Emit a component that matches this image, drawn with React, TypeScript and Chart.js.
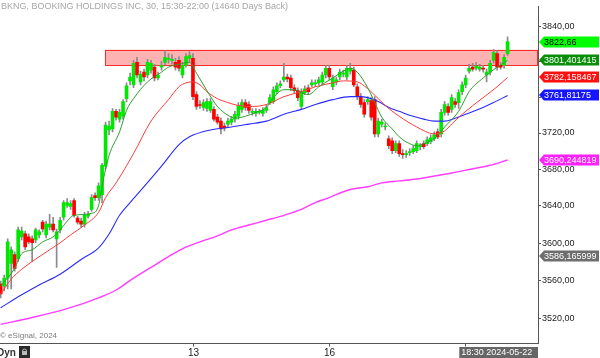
import React, { useEffect, useRef } from "react";
import { Chart, registerables } from "chart.js";
Chart.register(...registerables);

const TITLE = "BKNG, BOOKING HOLDINGS INC, 30, 15:30-22:00 (14640 Days Back)";
const COPYRIGHT = "\u00A9 eSignal, 2024";
const CURSOR_DATE = "18:30 2024-05-22";

// 30-min candles, index 0..145
const opens = [
  3556.3, 3554.2, 3562.6, 3578.2, 3587.6, 3583.4, 3606.7, 3609.8, 3606.7, 3604.5,
  3603.5, 3608.8, 3622.5, 3608.8, 3617.2, 3620.4, 3604.5, 3614.1, 3627.8, 3640.5,
  3639.5, 3645.9, 3626.8, 3623.6, 3620.4, 3628.9, 3636.3, 3651.3, 3649.1, 3652.3,
  3683.4, 3723.4, 3724.5, 3744.1, 3735.4, 3738.6, 3758.3, 3778.2, 3773.8, 3799.2,
  3777.1, 3788.1, 3784.8, 3790.3, 3793.7, 3781.5, 3793.7, 3799.2, 3802.5, 3801.4,
  3799.2, 3801.4, 3784.8, 3795.9, 3803.6, 3803.6, 3762.8, 3751.7, 3748.4, 3747.3,
  3745.2, 3746.3, 3737.6, 3733.2, 3727.8, 3729.9, 3732.1, 3735.4, 3738.6, 3746.3,
  3753.9, 3751.7, 3743.0, 3741.9, 3743.0, 3741.9, 3745.2, 3753.9, 3755.0, 3766.1,
  3772.7, 3779.3, 3782.6, 3781.5, 3770.5, 3767.2, 3749.5, 3765.0, 3770.5, 3773.8,
  3774.9, 3776.0, 3777.1, 3784.8, 3792.5, 3771.6, 3777.1, 3782.6, 3785.9, 3782.6,
  3789.2, 3790.3, 3771.6, 3760.5, 3753.9, 3755.0, 3756.1, 3757.2, 3719.1, 3729.9,
  3726.7, 3713.6, 3711.4, 3700.6, 3708.2, 3697.3, 3696.2, 3698.4, 3699.5, 3700.6,
  3704.9, 3708.2, 3708.2, 3710.3, 3713.6, 3721.2, 3719.1, 3743.0, 3749.5, 3746.3,
  3755.0, 3753.9, 3766.1, 3773.8, 3789.2, 3793.7, 3792.5, 3791.4, 3792.5, 3784.8,
  3788.1, 3801.4, 3809.1, 3795.9, 3795.9, 3809.1,
];
const highs = [
  3559.5, 3565.7, 3604.5, 3596.0, 3590.7, 3617.2, 3617.2, 3613.0, 3609.8, 3607.7,
  3616.2, 3614.1, 3624.6, 3623.6, 3631.0, 3627.8, 3615.1, 3627.8, 3645.9, 3648.0,
  3645.9, 3648.0, 3628.9, 3626.8, 3633.1, 3634.2, 3652.3, 3654.4, 3665.1, 3686.6,
  3732.1, 3733.2, 3747.3, 3746.3, 3746.3, 3757.2, 3776.0, 3787.0, 3801.4, 3804.7,
  3789.2, 3791.4, 3802.5, 3801.4, 3797.0, 3788.1, 3800.3, 3812.5, 3809.1, 3808.0,
  3803.6, 3805.8, 3799.2, 3809.1, 3811.4, 3809.1, 3766.1, 3756.1, 3757.2, 3758.3,
  3758.3, 3749.5, 3740.8, 3736.5, 3731.0, 3736.5, 3738.6, 3744.1, 3753.9, 3757.2,
  3757.2, 3755.0, 3747.3, 3747.3, 3746.3, 3748.4, 3751.7, 3762.8, 3771.6, 3776.0,
  3778.2, 3798.1, 3785.9, 3784.8, 3773.8, 3770.5, 3769.4, 3772.7, 3773.8, 3779.3,
  3779.3, 3782.6, 3788.1, 3795.9, 3795.9, 3784.8, 3782.6, 3791.4, 3790.3, 3795.9,
  3798.1, 3793.7, 3774.9, 3763.9, 3757.2, 3760.5, 3759.4, 3760.5, 3736.5, 3735.4,
  3731.0, 3716.9, 3714.7, 3711.4, 3711.4, 3701.6, 3700.6, 3702.7, 3706.0, 3711.4,
  3708.2, 3711.4, 3715.8, 3718.0, 3721.2, 3724.5, 3746.3, 3755.0, 3752.8, 3762.8,
  3758.3, 3768.3, 3777.1, 3784.8, 3797.0, 3798.1, 3799.2, 3797.0, 3795.9, 3791.4,
  3801.4, 3813.6, 3812.5, 3799.2, 3808.0, 3828.2,
];
const lows = [
  3541.7, 3549.0, 3551.1, 3551.1, 3569.9, 3580.3, 3603.5, 3592.8, 3599.2, 3580.3,
  3600.3, 3605.6, 3612.0, 3605.6, 3614.1, 3612.0, 3574.0, 3610.9, 3624.6, 3638.4,
  3636.3, 3627.8, 3620.4, 3617.2, 3617.2, 3626.8, 3634.2, 3645.9, 3645.9, 3643.7,
  3680.2, 3718.0, 3721.2, 3734.3, 3732.1, 3735.4, 3755.0, 3773.8, 3770.5, 3781.5,
  3773.8, 3778.2, 3781.5, 3787.0, 3778.2, 3779.3, 3790.3, 3795.9, 3798.1, 3797.0,
  3790.3, 3789.2, 3781.5, 3793.7, 3800.3, 3757.2, 3746.3, 3747.3, 3745.2, 3744.1,
  3743.0, 3733.2, 3729.9, 3719.1, 3722.3, 3726.7, 3728.9, 3732.1, 3735.4, 3743.0,
  3745.2, 3741.9, 3739.7, 3738.6, 3740.8, 3738.6, 3743.0, 3751.7, 3752.8, 3763.9,
  3770.5, 3777.1, 3777.1, 3767.2, 3763.9, 3756.1, 3747.3, 3762.8, 3762.8, 3771.6,
  3771.6, 3773.8, 3773.8, 3781.5, 3779.3, 3768.3, 3773.8, 3779.3, 3782.6, 3779.3,
  3785.9, 3771.6, 3757.2, 3748.4, 3737.6, 3751.7, 3734.3, 3715.8, 3715.8, 3726.7,
  3723.4, 3702.7, 3697.3, 3698.4, 3694.1, 3691.9, 3693.0, 3695.2, 3697.3, 3698.4,
  3701.6, 3702.7, 3706.0, 3708.2, 3711.4, 3713.6, 3715.8, 3739.7, 3739.7, 3743.0,
  3748.4, 3747.3, 3762.8, 3770.5, 3787.0, 3789.2, 3790.3, 3789.2, 3788.1, 3777.1,
  3784.8, 3798.1, 3790.3, 3791.4, 3792.5, 3806.9,
];
const closes = [
  3545.9, 3562.6, 3601.3, 3592.8, 3573.0, 3614.1, 3613.0, 3596.0, 3601.3, 3600.3,
  3614.1, 3612.0, 3615.1, 3620.4, 3620.4, 3614.1, 3612.0, 3624.6, 3643.7, 3643.7,
  3642.6, 3629.9, 3622.5, 3620.4, 3629.9, 3631.0, 3649.1, 3649.1, 3661.9, 3684.4,
  3728.9, 3727.8, 3744.1, 3737.6, 3743.0, 3755.0, 3772.7, 3782.6, 3798.1, 3784.8,
  3785.9, 3782.6, 3799.2, 3798.1, 3781.5, 3784.8, 3795.9, 3804.7, 3803.6, 3802.5,
  3793.7, 3792.5, 3795.9, 3805.8, 3806.9, 3760.5, 3749.5, 3750.6, 3753.9, 3755.0,
  3755.0, 3735.4, 3732.1, 3724.5, 3725.6, 3733.2, 3735.4, 3740.8, 3750.6, 3753.9,
  3748.4, 3745.2, 3744.1, 3744.1, 3744.1, 3745.2, 3748.4, 3759.4, 3768.3, 3772.7,
  3774.9, 3782.6, 3780.4, 3770.5, 3767.2, 3759.4, 3766.1, 3769.4, 3766.1, 3776.0,
  3776.0, 3779.3, 3784.8, 3792.5, 3782.6, 3781.5, 3779.3, 3788.1, 3787.0, 3792.5,
  3792.5, 3773.8, 3760.5, 3751.7, 3740.8, 3757.2, 3737.6, 3719.1, 3733.2, 3732.1,
  3727.8, 3706.0, 3700.6, 3708.2, 3697.3, 3696.2, 3697.3, 3699.5, 3702.7, 3708.2,
  3705.4, 3704.9, 3712.5, 3714.7, 3718.0, 3715.8, 3743.0, 3751.7, 3743.0, 3759.4,
  3751.7, 3765.0, 3773.8, 3781.5, 3792.5, 3791.4, 3794.8, 3793.7, 3791.4, 3788.1,
  3798.1, 3810.3, 3793.7, 3793.7, 3804.7, 3822.66,
];

// Moving averages: [bar index, value]
const maGreen: [number, number][] = [
  [0, 3554.2], [4, 3573.0], [6, 3588.6], [9, 3592.8], [12, 3601.3], [15, 3606.7],
  [17, 3614.1], [19, 3623.6], [21, 3629.9], [26, 3632.0], [28, 3640.5], [29, 3661.9],
  [31, 3695.2], [34, 3721.2], [36, 3745.2], [38, 3758.3], [42, 3777.1], [46, 3788.1],
  [48, 3793.7], [51, 3797.0], [54, 3799.2], [56, 3787.0], [59, 3767.2], [62, 3749.5],
  [65, 3739.7], [67, 3736.5], [70, 3738.6], [73, 3743.0], [76, 3748.4], [78, 3759.4],
  [81, 3768.3], [84, 3768.3], [86, 3765.0], [88, 3762.8], [91, 3771.6], [95, 3781.5],
  [98, 3789.2], [100, 3792.5], [102, 3788.1], [105, 3770.5], [107, 3753.9], [109, 3737.6],
  [112, 3724.5], [114, 3715.8], [117, 3708.2], [119, 3706.0], [121, 3708.2], [124, 3713.6],
  [127, 3726.7], [131, 3744.1], [134, 3766.1], [138, 3781.5], [142, 3793.7], [145, 3801.401415],
];
const maRed: [number, number][] = [
  [0, 3545.9], [3, 3561.5], [6, 3572.0], [9, 3580.3], [14, 3592.8], [17, 3600.3],
  [20, 3608.8], [24, 3619.4], [28, 3633.1], [30, 3649.1], [33, 3665.1], [38, 3697.3],
  [43, 3733.2], [48, 3757.2], [51, 3771.6], [53, 3776.0], [55, 3777.1], [57, 3773.8],
  [59, 3766.1], [62, 3758.3], [65, 3753.9], [68, 3750.6], [72, 3749.5], [76, 3751.7],
  [81, 3760.5], [86, 3766.1], [90, 3771.6], [95, 3776.0], [98, 3778.2], [102, 3777.1],
  [105, 3769.4], [108, 3758.3], [111, 3747.3], [114, 3738.6], [119, 3726.7], [124, 3719.1],
  [127, 3722.3], [129, 3729.9], [132, 3740.8], [138, 3759.4], [142, 3771.6], [145, 3782.158467],
];
const maBlue: [number, number][] = [
  [0, 3531.3], [6, 3544.9], [11, 3555.3], [17, 3566.7], [23, 3582.4], [28, 3594.9],
  [31, 3609.8], [34, 3629.9], [37, 3643.7], [40, 3656.6], [46, 3683.4], [51, 3707.1],
  [54, 3715.8], [60, 3723.4], [66, 3726.7], [71, 3729.9], [76, 3733.2], [81, 3740.8],
  [86, 3746.3], [90, 3751.7], [95, 3757.2], [100, 3760.5], [103, 3760.5], [106, 3758.3],
  [108, 3755.0], [111, 3748.4], [114, 3744.1], [118, 3738.6], [121, 3735.4], [124, 3733.2],
  [127, 3733.2], [130, 3736.5], [133, 3740.8], [138, 3748.4], [141, 3753.9], [145, 3761.81175],
];
const maMagenta: [number, number][] = [
  [0, 3513.8], [9, 3521.0], [19, 3530.3], [28, 3541.7], [33, 3550.0], [38, 3562.6],
  [43, 3574.0], [48, 3585.5], [52, 3593.9], [57, 3601.3], [62, 3607.7], [66, 3614.1],
  [71, 3619.4], [76, 3624.6], [81, 3629.9], [86, 3636.3], [90, 3643.7], [94, 3649.1],
  [98, 3655.5], [101, 3658.7], [105, 3660.9], [109, 3665.1], [114, 3667.3], [119, 3669.4],
  [124, 3672.6], [129, 3675.9], [133, 3679.1], [140, 3684.4], [145, 3690.244819],
];

// Resistance zone
const zoneLow = 3796.0;
const zoneHigh = 3813.5;
const zoneStartIndex = 29.8;

// Axis
const yMin = 3494.4;
const yMax = 3863;
const yTicks = [3520, 3560, 3600, 3640, 3680, 3720, 3760, 3800, 3840];
const xMin = -0.2;
const xMax = 153.7;
const xTickPositions = [54.9, 93.9, 132.9];
const xTickLabels = ["13", "16", ""];

// Price tags on the right axis
const tagValues = [3822.66, 3801.401415, 3782.158467, 3761.81175, 3690.244819, 3586.165999];
const tagTexts = ["3822,66", "3801,401415", "3782,158467", "3761,81175", "3690,244819", "3586,165999"];
const tagBg = ["#00ff00", "#0b8f0b", "#ff1010", "#1515ff", "#ff20ff", "#6e6e6e"];
const tagFg = ["#000000", "#ffffff", "#ffffff", "#ffffff", "#ffffff", "#ffffff"];

const FONT = "'Liberation Sans', Arial, sans-serif";

const fmt = (v: number) => v.toFixed(2).replace(".", ",");

const zonePlugin = {
  id: "zone",
  beforeDatasetsDraw(chart: any) {
    const { ctx, chartArea, scales } = chart;
    const x0 = scales.x.getPixelForValue(zoneStartIndex);
    const x1 = chartArea.right;
    const y0 = scales.y.getPixelForValue(zoneHigh);
    const y1 = scales.y.getPixelForValue(zoneLow);
    ctx.save();
    ctx.fillStyle = "rgba(255,0,0,0.3)";
    ctx.fillRect(x0, y0, x1 - x0, y1 - y0);
    ctx.strokeStyle = "#ff2a2a";
    ctx.lineWidth = 1;
    ctx.strokeRect(Math.round(x0) + 0.5, Math.round(y0) + 0.5, x1 - Math.round(x0) - 1, Math.round(y1 - y0));
    ctx.restore();
  },
};

const overlayPlugin = {
  id: "overlay",
  afterDraw(chart: any) {
    const { ctx, chartArea, scales } = chart;
    ctx.save();
    // x axis line, tick marks and labels
    ctx.strokeStyle = "#555";
    ctx.lineWidth = 1;
    ctx.beginPath();
    ctx.moveTo(0, chartArea.bottom + 0.5);
    ctx.lineTo(chartArea.right, chartArea.bottom + 0.5);
    ctx.stroke();
    ctx.font = `10px ${FONT}`;
    ctx.fillStyle = "#222";
    ctx.textAlign = "center";
    ctx.textBaseline = "middle";
    xTickPositions.forEach((v, i) => {
      const x = Math.round(scales.x.getPixelForValue(v)) + 0.5;
      ctx.beginPath();
      ctx.moveTo(x, chartArea.bottom);
      ctx.lineTo(x, chartArea.bottom + 3.5);
      ctx.stroke();
      if (xTickLabels[i]) ctx.fillText(xTickLabels[i], x, chartArea.bottom + 10);
    });
    ctx.textAlign = "left";
    // title
    ctx.font = `9px ${FONT}`;
    ctx.fillStyle = "#a6a6a6";
    ctx.fillText(TITLE, 1, 7);
    // copyright
    ctx.font = `8px ${FONT}`;
    ctx.fillStyle = "#7a7a7a";
    ctx.fillText(COPYRIGHT, 0, 336);
    // Dyn + lock
    ctx.font = `bold 10px ${FONT}`;
    ctx.fillStyle = "#333";
    ctx.fillText("Dyn", -3, 353);
    ctx.fillStyle = "#2a2a2a";
    ctx.fillRect(19, 346, 11, 12);
    ctx.strokeStyle = "#bbb";
    ctx.lineWidth = 1;
    ctx.beginPath();
    ctx.arc(24.5, 351, 2, Math.PI, 0);
    ctx.stroke();
    ctx.fillStyle = "#bbb";
    ctx.fillRect(22, 351, 5, 4);
    // cursor date box
    const xd = scales.x.getPixelForValue(xTickPositions[2]);
    ctx.fillStyle = "#666666";
    ctx.fillRect(xd - 6, 347, chartArea.right - (xd - 6), 11);
    ctx.fillStyle = "#ffffff";
    ctx.font = `9px ${FONT}`;
    ctx.fillText(CURSOR_DATE, xd - 4, 353);
    // price tags
    const left = chartArea.right + 1;
    tagValues.forEach((v, i) => {
      const y = Math.round(scales.y.getPixelForValue(v));
      ctx.fillStyle = tagBg[i];
      ctx.beginPath();
      ctx.moveTo(left, y);
      ctx.lineTo(left + 5, y - 5.5);
      ctx.lineTo(599, y - 5.5);
      ctx.lineTo(599, y + 5.5);
      ctx.lineTo(left + 5, y + 5.5);
      ctx.closePath();
      ctx.fill();
      ctx.fillStyle = tagFg[i];
      ctx.font = `9px ${FONT}`;
      ctx.fillText(tagTexts[i], left + 5, y + 0.5);
    });
    ctx.restore();
  },
};

const toPts = (arr: [number, number][]) => arr.map(([x, y]) => ({ x, y }));

export default function App() {
  const ref = useRef<HTMLCanvasElement | null>(null);
  useEffect(() => {
    if (!ref.current) return;
    Chart.defaults.font.family = FONT;
    const idx = opens.map((_, i) => i);
    const bodyColors = idx.map((i) => (closes[i] >= opens[i] ? "#00e800" : "#ff0000"));
    const chart = new Chart(ref.current, {
      type: "bar",
      data: {
        datasets: [
          {
            type: "line", label: "MA green", data: toPts(maGreen), borderColor: "#2e9e2e",
            borderWidth: 1, pointRadius: 0, cubicInterpolationMode: "monotone", order: 0,
          } as any,
          {
            type: "line", label: "MA red", data: toPts(maRed), borderColor: "#ff3c3c",
            borderWidth: 1, pointRadius: 0, cubicInterpolationMode: "monotone", order: 0,
          } as any,
          {
            type: "line", label: "MA blue", data: toPts(maBlue), borderColor: "#2a2aff",
            borderWidth: 1.1, pointRadius: 0, cubicInterpolationMode: "monotone", order: 0,
          } as any,
          {
            type: "line", label: "MA magenta", data: toPts(maMagenta), borderColor: "#ff3cff",
            borderWidth: 1.4, pointRadius: 0, cubicInterpolationMode: "monotone", order: 0,
          } as any,
          {
            type: "bar", label: "body", data: idx.map((i) => ({ x: i, y: [opens[i], closes[i]] })),
            backgroundColor: bodyColors, barThickness: 3, minBarLength: 1, grouped: false, order: 5,
          } as any,
          {
            type: "bar", label: "wick", data: idx.map((i) => ({ x: i, y: [lows[i], highs[i]] })),
            backgroundColor: "#8a8a8a", barThickness: 1, grouped: false, order: 6,
          } as any,
        ],
      },
      options: {
        responsive: false,
        animation: false,
        events: [],
        layout: { padding: { left: 0, top: 0, right: 0, bottom: 15 } },
        plugins: { legend: { display: false }, tooltip: { enabled: false } },
        scales: {
          x: {
            type: "linear", min: xMin, max: xMax, offset: false, display: false,
          },
          y: {
            type: "logarithmic", position: "right", min: yMin, max: yMax,
            grid: { drawOnChartArea: false, tickLength: 3, color: "#555" },
            border: { color: "#555" },
            ticks: {
              autoSkip: false, padding: 1, color: "#222",
              font: { size: 9, family: FONT },
              callback: (v: any) => fmt(Number(v)),
            },
            afterBuildTicks: (s: any) => { s.ticks = yTicks.map((v) => ({ value: v })); },
            afterFit: (s: any) => { s.width = 62; },
          },
        },
      } as any,
      plugins: [zonePlugin, overlayPlugin],
    });
    return () => chart.destroy();
  }, []);
  return (
    <div style={{ position: "fixed", left: 0, top: 0, width: 600, height: 358, background: "#fff" }}>
      <canvas ref={ref} width={600} height={358} style={{ display: "block" }} />
    </div>
  );
}
